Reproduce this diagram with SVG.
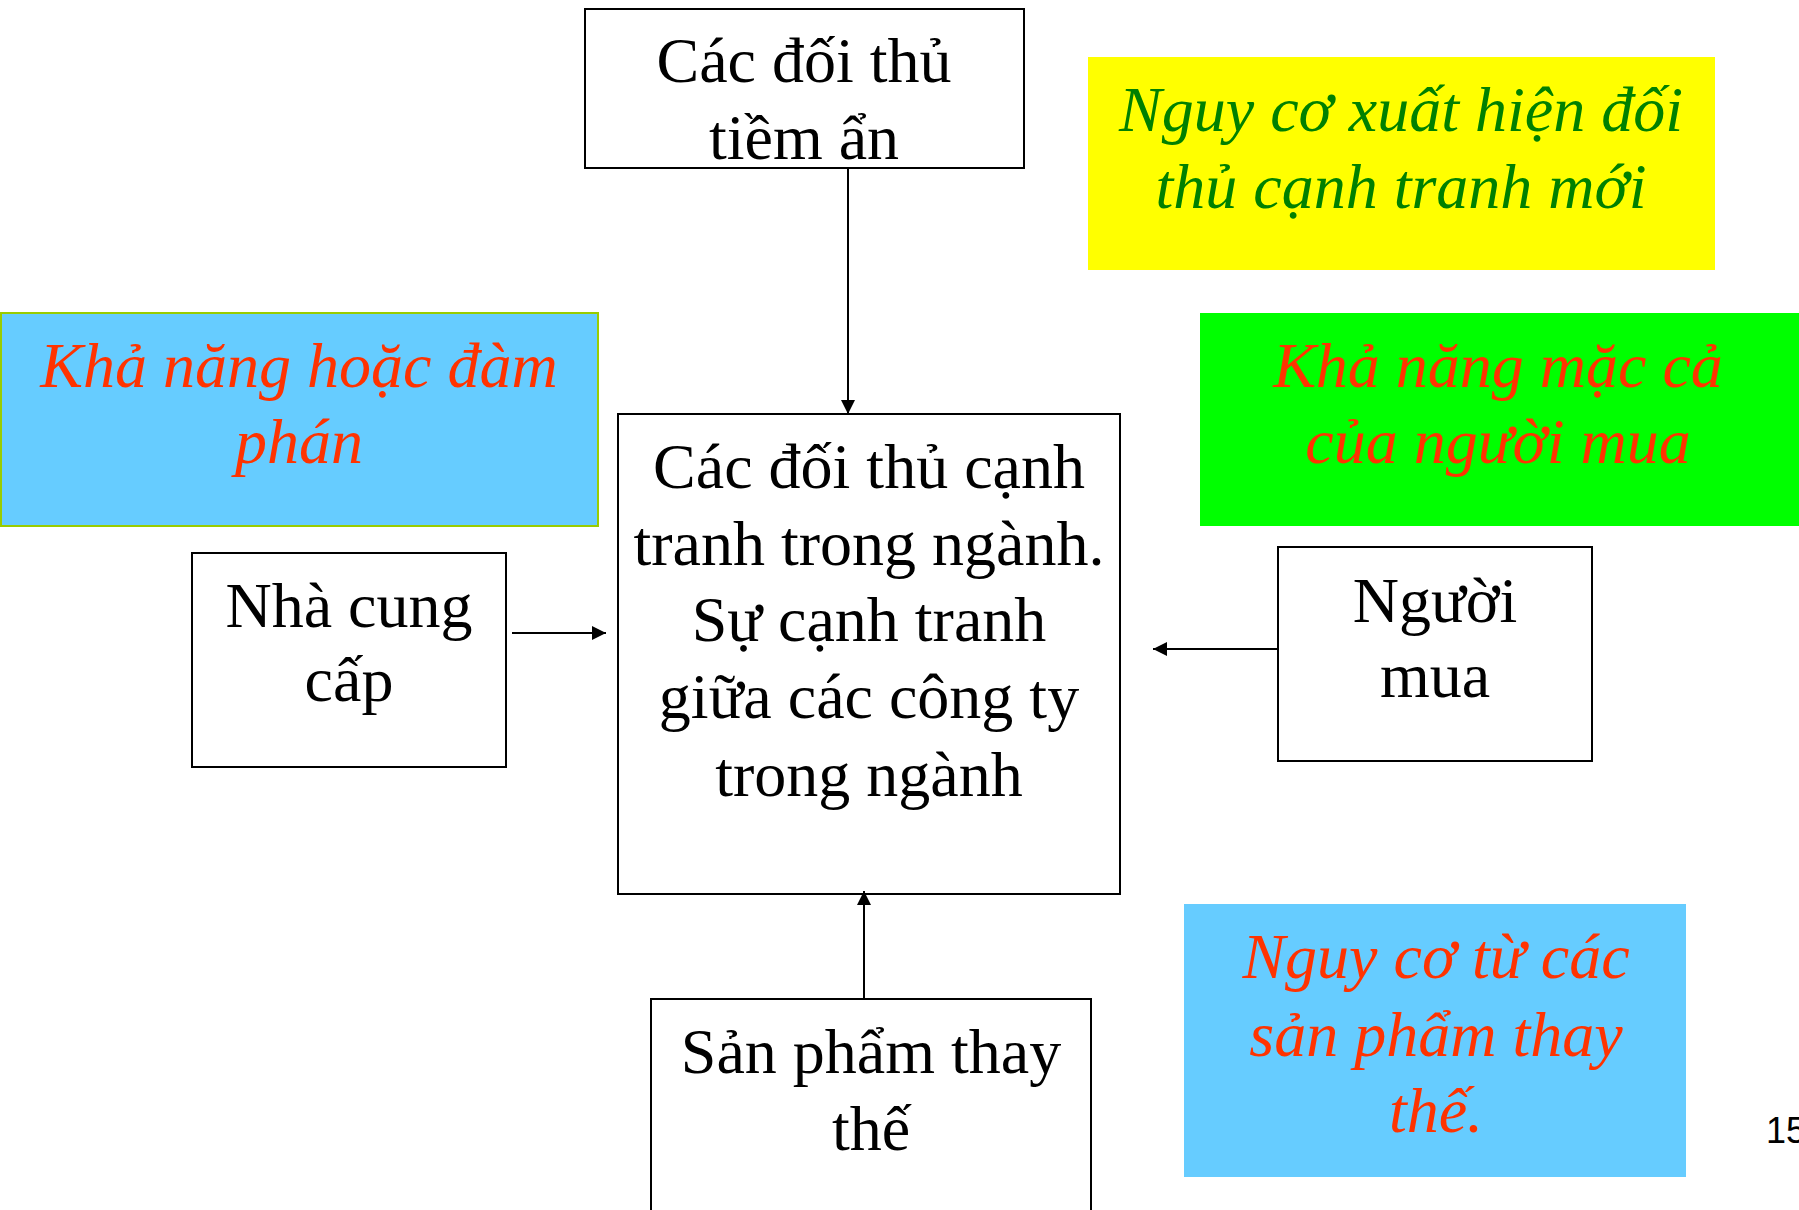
<svg xmlns="http://www.w3.org/2000/svg" width="1799" height="1210" viewBox="0 0 1799 1210">
<style>
.box{fill:#fff;stroke:#000;stroke-width:2}
.t{font-family:"Liberation Serif","DejaVu Serif",serif;font-size:64px;fill:#000;text-anchor:middle}
.it{font-family:"Liberation Serif","DejaVu Serif",serif;font-style:italic;font-size:64px;text-anchor:middle}
.red{fill:#FF3300}
.grn{fill:#008000}
.conn{stroke:#000;stroke-width:2;fill:none}
</style>
<defs>
<marker id="ah" viewBox="0 0 10 10" refX="10" refY="5" markerWidth="14" markerHeight="14" markerUnits="userSpaceOnUse" orient="auto">
<path d="M0,0 L10,5 L0,10 z" fill="#000"/>
</marker>
</defs>
<rect width="1799" height="1210" fill="#fff"/>

<g id="potential">
<rect class="box" x="585" y="9" width="439" height="159"/>
<text class="t" x="804" y="82">Các đối thủ</text>
<text class="t" x="804" y="159">tiềm ẩn</text>
</g>

<g id="threat-new">
<rect x="1088" y="57" width="627" height="213" fill="#FFFF00"/>
<text class="it grn" x="1401" y="131">Nguy cơ xuất hiện đối</text>
<text class="it grn" x="1401" y="208">thủ cạnh tranh mới</text>
</g>

<g id="supplier-power">
<rect x="1" y="313" width="597" height="213" fill="#66CCFF" stroke="#99CC00" stroke-width="2"/>
<text class="it red" x="299" y="387">Khả năng hoặc đàm</text>
<text class="it red" x="299" y="463">phán</text>
</g>

<g id="buyer-power">
<rect x="1200" y="313" width="599" height="213" fill="#00FF00"/>
<text class="it red" x="1498" y="387">Khả năng mặc cả</text>
<text class="it red" x="1498" y="463">của người mua</text>
</g>

<g id="industry">
<rect class="box" x="618" y="414" width="502" height="480"/>
<text class="t" x="869" y="488">Các đối thủ cạnh</text>
<text class="t" x="869" y="565">tranh trong ngành.</text>
<text class="t" x="869" y="641">Sự cạnh tranh</text>
<text class="t" x="869" y="718">giữa các công ty</text>
<text class="t" x="869" y="796">trong ngành</text>
</g>

<g id="supplier">
<rect class="box" x="192" y="553" width="314" height="214"/>
<text class="t" x="349" y="627">Nhà cung</text>
<text class="t" x="349" y="701">cấp</text>
</g>

<g id="buyer">
<rect class="box" x="1278" y="547" width="314" height="214"/>
<text class="t" x="1435" y="622">Người</text>
<text class="t" x="1435" y="697">mua</text>
</g>

<g id="substitutes">
<rect class="box" x="651" y="999" width="440" height="230"/>
<text class="t" x="871" y="1073">Sản phẩm thay</text>
<text class="t" x="871" y="1150">thế</text>
</g>

<g id="threat-substitutes">
<rect x="1184" y="904" width="502" height="273" fill="#66CCFF"/>
<text class="it red" x="1436" y="978">Nguy cơ từ các</text>
<text class="it red" x="1436" y="1056">sản phẩm thay</text>
<text class="it red" x="1436" y="1132">thế.</text>
</g>

<text x="1766" y="1143" font-family="Liberation Sans, Arial, sans-serif" font-size="36" fill="#000">15</text>

<g id="connectors">
<line class="conn" x1="848" y1="168" x2="848" y2="414" marker-end="url(#ah)"/>
<line class="conn" x1="512" y1="633" x2="606" y2="633" marker-end="url(#ah)"/>
<line class="conn" x1="1278" y1="649" x2="1153" y2="649" marker-end="url(#ah)"/>
<line class="conn" x1="864" y1="999" x2="864" y2="891" marker-end="url(#ah)"/>
</g>
</svg>
